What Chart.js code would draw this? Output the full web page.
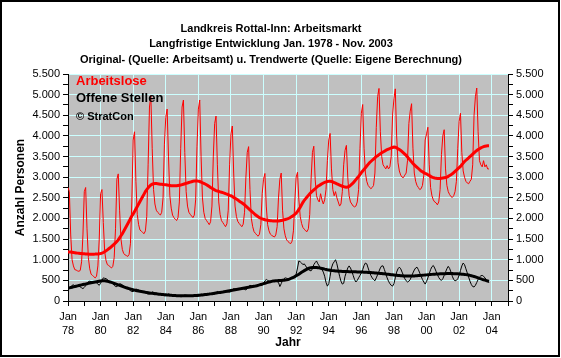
<!DOCTYPE html>
<html>
<head>
<meta charset="utf-8">
<script src="https://cdn.jsdelivr.net/npm/chart.js@4"></script>
<style>
html, body { margin: 0; padding: 0; background: #fff; }
canvas { display: block; }
</style>
</head>
<body>
<canvas id="grafico" width="561" height="358"></canvas>
<script>
// Monatswerte Jan. 1978 - Nov. 2003 (eine Zeile je Jahr)
const arbeitslose = [
    2750, 2650, 1600, 1000, 850, 760, 750, 730, 720, 740, 950, 1600,      // 1978
    2650, 2750, 1750, 1050, 780, 650, 620, 590, 560, 600, 850, 1500,      // 1979
    2600, 2700, 1900, 1200, 980, 880, 860, 830, 800, 840, 1050, 1750,     // 1980
    2950, 3080, 2200, 1500, 1250, 1150, 1120, 1100, 1080, 1130, 1400, 2400, // 1981
    3900, 4100, 2900, 2100, 1850, 1720, 1690, 1660, 1630, 1700, 2050, 3300, // 1982
    4700, 4980, 3700, 2700, 2350, 2200, 2150, 2120, 2080, 2150, 2500, 3800, // 1983
    4450, 4650, 3500, 2550, 2250, 2080, 2020, 1980, 1950, 2020, 2400, 3700, // 1984
    4700, 4870, 3600, 2650, 2300, 2150, 2100, 2060, 2020, 2080, 2450, 3750, // 1985
    4650, 4870, 3500, 2500, 2150, 2000, 1950, 1900, 1850, 1920, 2300, 3500, // 1986
    4300, 4480, 3300, 2400, 2100, 1950, 1900, 1850, 1800, 1870, 2200, 3300, // 1987
    4050, 4240, 3100, 2300, 2050, 1930, 1880, 1840, 1800, 1860, 2150, 3000, // 1988
    3600, 3740, 2700, 2000, 1800, 1680, 1640, 1600, 1570, 1620, 1850, 2600, // 1989
    2950, 3090, 2300, 1850, 1700, 1620, 1590, 1570, 1550, 1600, 1800, 2500, // 1990
    2950, 3100, 2200, 1750, 1580, 1480, 1440, 1410, 1390, 1450, 1700, 2400, // 1991
    3000, 3120, 2450, 2050, 1880, 1780, 1740, 1700, 1680, 1750, 2100, 2950, // 1992
    3600, 3750, 2950, 2550, 2450, 2400, 2600, 2450, 2350, 2450, 2700, 3400, // 1993
    3900, 4060, 3200, 2700, 2550, 2650, 2500, 2400, 2300, 2350, 2650, 3300, // 1994
    3650, 3770, 3000, 2550, 2400, 2350, 2300, 2280, 2300, 2400, 2700, 3700, // 1995
    4550, 4760, 3700, 3100, 2900, 2800, 2760, 2720, 2750, 2800, 3100, 4200, // 1996
    4950, 5150, 4100, 3500, 3300, 3250, 3200, 3280, 3200, 3250, 3500, 4500, // 1997
    4900, 5140, 4000, 3350, 3150, 3050, 3000, 2990, 3050, 3100, 3400, 4300, // 1998
    4600, 4780, 3700, 3100, 2900, 2800, 2750, 2700, 2720, 2800, 3050, 3900, // 1999
    4050, 4210, 3300, 2750, 2550, 2450, 2400, 2380, 2330, 2400, 2700, 3550, // 2000
    4000, 4150, 3200, 2800, 2650, 2580, 2530, 2510, 2550, 2650, 2900, 3700, // 2001
    4350, 4550, 3600, 3150, 3000, 2900, 2860, 2840, 2900, 2950, 3300, 4500, // 2002
    4950, 5160, 4100, 3400, 3300, 3250, 3400, 3250, 3300, 3200, 3200        // 2003
];

const trendArbeitslose = [
    1190, 1190, 1185, 1180, 1175, 1170, 1165, 1160, 1155, 1150, 1148, 1145,
    1143, 1140, 1138, 1136, 1135, 1134, 1134, 1135, 1136, 1138, 1140, 1142,
    1150, 1160, 1175, 1195, 1215, 1240, 1265, 1290, 1320, 1350, 1380, 1410,
    1440, 1480, 1530, 1580, 1630, 1690, 1750, 1810, 1870, 1930, 2000, 2060,
    2110, 2170, 2230, 2290, 2350, 2410, 2470, 2530, 2590, 2650, 2700, 2740,
    2780, 2810, 2830, 2840, 2845, 2845, 2840, 2835, 2830, 2830, 2825, 2820,
    2815, 2810, 2805, 2800, 2795, 2790, 2790, 2790, 2795, 2800, 2805, 2810,
    2820, 2830, 2840, 2850, 2860, 2870, 2880, 2890, 2900, 2905, 2910, 2910,
    2905, 2895, 2880, 2865, 2850, 2835, 2815, 2795, 2775, 2750, 2730, 2710,
    2690, 2675, 2665, 2655, 2645, 2635, 2625, 2615, 2600, 2590, 2575, 2560,
    2550, 2530, 2510, 2490, 2470, 2450, 2420, 2400, 2380, 2355, 2330, 2300,
    2270, 2240, 2210, 2180, 2150, 2120, 2090, 2065, 2040, 2020, 2005, 1990,
    1980, 1970, 1960, 1955, 1950, 1945, 1942, 1940, 1940, 1940, 1940, 1940,
    1945, 1950, 1955, 1965, 1975, 1985, 1995, 2010, 2030, 2050, 2075, 2100,
    2130, 2170, 2220, 2270, 2330, 2390, 2440, 2480, 2520, 2560, 2600, 2630,
    2660, 2690, 2720, 2750, 2780, 2800, 2820, 2840, 2860, 2875, 2885, 2895,
    2900, 2900, 2895, 2885, 2870, 2855, 2840, 2825, 2810, 2795, 2780, 2770,
    2760, 2755, 2760, 2775, 2800, 2830, 2860, 2900, 2940, 2980, 3020, 3060,
    3110, 3150, 3190, 3230, 3270, 3310, 3350, 3380, 3410, 3440, 3470, 3500,
    3520, 3545, 3570, 3590, 3610, 3630, 3650, 3665, 3680, 3695, 3710, 3720,
    3730, 3725, 3710, 3690, 3670, 3650, 3620, 3590, 3560, 3530, 3490, 3450,
    3410, 3370, 3330, 3300, 3270, 3240, 3210, 3180, 3150, 3130, 3110, 3090,
    3080, 3060, 3040, 3020, 3000, 2990, 2980, 2975, 2970, 2970, 2970, 2975,
    2980, 2985, 2990, 3000, 3020, 3040, 3060, 3080, 3110, 3140, 3170, 3200,
    3230, 3260, 3300, 3340, 3380, 3410, 3440, 3470, 3500, 3530, 3560, 3590,
    3620, 3645, 3670, 3690, 3710, 3725, 3740, 3750, 3755, 3760, 3760
];

const offeneStellen = [
    280, 300, 340, 380, 390, 370, 360, 370, 360, 340, 320, 300,
    330, 370, 430, 470, 480, 470, 460, 470, 470, 440, 410, 380,
    430, 500, 560, 550, 540, 520, 490, 470, 450, 420, 380, 350,
    350, 380, 420, 410, 390, 370, 340, 330, 310, 280, 250, 230,
    230, 260, 290, 280, 270, 250, 240, 230, 220, 200, 180, 170,
    170, 190, 220, 210, 200, 190, 180, 170, 160, 150, 140, 130,
    130, 150, 170, 160, 150, 140, 140, 135, 130, 120, 110, 105,
    105, 125, 145, 140, 135, 130, 130, 130, 130, 125, 120, 115,
    120, 140, 165, 160, 160, 160, 165, 165, 170, 165, 165, 160,
    170, 200, 230, 220, 215, 215, 220, 225, 230, 225, 220, 215,
    230, 270, 300, 290, 290, 290, 295, 300, 305, 300, 280, 270,
    300, 350, 380, 370, 360, 360, 370, 380, 390, 400, 390, 380,
    420, 490, 520, 500, 480, 470, 480, 490, 500, 490, 470, 450,
    350, 420, 500, 540, 560, 550, 530, 540, 560, 560, 580, 600,
    650, 800, 970, 950, 920, 880, 900, 850, 800, 760, 740, 730,
    780, 880, 930, 970, 900, 850, 800, 760, 700, 600, 450, 360,
    420, 600, 800, 900, 950, 1000, 900, 750, 600, 480, 410, 430,
    600, 700, 800, 850, 800, 720, 620, 520, 460, 500, 560, 620,
    680, 760, 860, 920, 900, 800, 700, 620, 560, 520, 490, 560,
    640, 720, 800, 850, 850, 760, 660, 560, 480, 420, 380, 360,
    420, 560, 700, 780, 820, 780, 700, 620, 540, 490, 460, 480,
    520, 600, 680, 750, 800, 820, 760, 680, 600, 520, 460, 410,
    470, 560, 660, 760, 830, 860, 800, 720, 640, 570, 520, 500,
    540, 620, 700, 780, 840, 790, 700, 600, 520, 490, 500, 540,
    620, 740, 850, 920, 880, 780, 680, 580, 480, 400, 350, 340,
    380, 450, 520, 580, 610, 620, 600, 560, 520, 480, 440
];

const trendOffeneStellen = [
    310, 318, 326, 334, 342, 350, 358, 366, 374, 382, 390, 398,
    405, 412, 420, 427, 434, 441, 448, 455, 462, 468, 474, 480,
    486, 490, 490, 488, 484, 478, 470, 460, 450, 440, 428, 416,
    404, 392, 380, 368, 356, 344, 332, 320, 310, 300, 290, 281,
    272, 264, 256, 248, 241, 234, 228, 222, 216, 210, 205, 200,
    195, 190, 186, 182, 178, 174, 170, 166, 162, 158, 155, 152,
    149, 146, 143, 140, 138, 136, 134, 132, 130, 129, 128, 127,
    126, 125, 125, 125, 125, 126, 127, 128, 130, 132, 134, 136,
    139, 142, 145, 148, 152, 156, 160, 164, 168, 173, 178, 183,
    188, 193, 198, 203, 208, 213, 218, 224, 230, 236, 242, 248,
    254, 260, 266, 272, 278, 284, 290, 296, 302, 308, 314, 320,
    326, 332, 338, 344, 350, 356, 362, 370, 380, 390, 400, 410,
    420, 430, 440, 450, 460, 468, 476, 482, 486, 490, 492, 494,
    496, 498, 500, 502, 506, 512, 520, 530, 545, 560, 575, 590,
    610, 630, 650, 672, 694, 716, 736, 755, 772, 788, 800, 808,
    812, 814, 814, 812, 808, 802, 795, 788, 780, 772, 765, 758,
    752, 746, 740, 736, 732, 728, 725, 722, 720, 718, 716, 715,
    714, 713, 712, 711, 710, 709, 708, 707, 706, 705, 704, 703,
    702, 700, 698, 696, 694, 692, 690, 688, 686, 684, 681, 678,
    675, 672, 669, 666, 662, 658, 654, 650, 646, 642, 638, 634,
    630, 626, 622, 618, 615, 612, 610, 608, 606, 605, 604, 604,
    604, 605, 606, 608, 610, 612, 615, 618, 621, 624, 627, 630,
    633, 636, 639, 642, 645, 648, 650, 652, 654, 656, 658, 660,
    661, 662, 663, 664, 665, 665, 665, 664, 663, 662, 660, 658,
    655, 653, 650, 647, 643, 639, 634, 628, 621, 613, 604, 594,
    583, 571, 559, 547, 536, 525, 515, 505, 495, 485, 475
];

// Achsenbeschriftung: Jan. jedes zweiten Jahres
const jahresLabels = ['78', '80', '82', '84', '86', '88', '90', '92', '94', '96', '98', '00', '02', '04'];
const titelZeilen = [
    'Landkreis Rottal-Inn: Arbeitsmarkt',
    'Langfristige Entwicklung Jan. 1978 - Nov. 2003',
    'Original- (Quelle: Arbeitsamt) u. Trendwerte (Quelle: Eigene Berechnung)'
];

const GITTER = '#CCFFFF';
const UNSICHTBAR = 'rgba(0,0,0,0)';

Chart.defaults.font.family = "'Liberation Sans', Arial, sans-serif";
Chart.defaults.font.size = 11;
Chart.defaults.color = '#000';

function punkte(werte) {
    return werte.map((v, i) => ({ x: i, y: v }));
}

function tausender(v) {
    return String(v).replace(/\B(?=(\d{3})+(?!\d))/g, '.');
}

const rahmenUndText = {
    id: 'rahmenUndText',
    beforeDraw(chart) {
        const { ctx, chartArea: a } = chart;
        ctx.save();
        ctx.fillStyle = '#fff';
        ctx.fillRect(0, 0, chart.width, chart.height);
        ctx.fillStyle = '#C0C0C0';
        ctx.fillRect(a.left, a.top, a.right - a.left, a.bottom - a.top);
        ctx.restore();
    },
    afterDraw(chart) {
        const ctx = chart.ctx;
        ctx.save();
        ctx.textBaseline = 'middle';
        ctx.textAlign = 'center';
        ctx.fillStyle = '#000';
        ctx.font = "bold 11px 'Liberation Sans', Arial, sans-serif";
        ctx.fillText(titelZeilen[0], 271, 29);
        ctx.fillText(titelZeilen[1], 271, 44);
        ctx.fillText(titelZeilen[2], 271, 60);

        ctx.textAlign = 'left';
        ctx.font = "bold 13px 'Liberation Sans', Arial, sans-serif";
        ctx.fillStyle = '#FF0000';
        ctx.fillText('Arbeitslose', 76, 81);
        ctx.fillStyle = '#000';
        ctx.fillText('Offene Stellen', 76, 98);
        ctx.font = "bold 11px 'Liberation Sans', Arial, sans-serif";
        ctx.fillText('\u00A9 StratCon', 76, 117);

        ctx.strokeStyle = '#000';
        ctx.lineWidth = 2;
        ctx.strokeRect(1, 1, 558, 355);
        ctx.restore();
    }
};

const ctx = document.getElementById('grafico').getContext('2d');

const grafico = new Chart(ctx, {
    type: 'line',
    data: {
        datasets: [
            {
                label: 'Arbeitslose',
                data: punkte(arbeitslose),
                borderColor: '#FF0000',
                borderWidth: 1
            },
            {
                label: 'Offene Stellen',
                data: punkte(offeneStellen),
                borderColor: '#000',
                borderWidth: 1
            },
            {
                label: 'Trend Arbeitslose',
                data: punkte(trendArbeitslose),
                borderColor: '#FF0000',
                borderWidth: 3
            },
            {
                label: 'Trend Offene Stellen',
                data: punkte(trendOffeneStellen),
                borderColor: '#000',
                borderWidth: 3
            }
        ]
    },
    options: {
        responsive: false,
        animation: false,
        devicePixelRatio: 1,
        elements: {
            point: { radius: 0 },
            line: { tension: 0, fill: false }
        },
        layout: { padding: { top: 74, left: 0, right: 0, bottom: 0 } },
        plugins: {
            legend: { display: false },
            tooltip: { enabled: false }
        },
        scales: {
            x: {
                type: 'linear',
                min: 0,
                max: 324,
                afterFit(s) { s.height = 57; },
                border: { color: '#000', width: 1 },
                grid: {
                    color: c => (c.tick && c.tick.value % 24 === 0) ? GITTER : UNSICHTBAR,
                    tickColor: '#000',
                    tickLength: 5
                },
                ticks: {
                    stepSize: 12,
                    autoSkip: false,
                    maxRotation: 0,
                    padding: 3,
                    font: { size: 11, lineHeight: 1.36 },
                    callback: v => v % 24 === 0 ? ['Jan', jahresLabels[v / 24]] : ''
                },
                title: {
                    display: true,
                    text: 'Jahr',
                    font: { size: 12, weight: 'bold' },
                    padding: { top: 0, bottom: 8 }
                }
            },
            y: {
                position: 'left',
                min: 0,
                max: 5500,
                afterFit(s) { s.width = 68; },
                border: { color: '#000', width: 1 },
                grid: {
                    color: c => (c.tick && c.tick.value % 500 === 0) ? GITTER : UNSICHTBAR,
                    tickColor: '#000',
                    tickLength: 5
                },
                ticks: {
                    stepSize: 250,
                    autoSkip: false,
                    padding: 3,
                    callback: v => v % 500 === 0 ? tausender(v) : ''
                },
                title: {
                    display: true,
                    text: 'Anzahl Personen',
                    font: { size: 12, weight: 'bold' },
                    padding: { top: 13, bottom: 0 }
                }
            },
            y2: {
                position: 'right',
                min: 0,
                max: 5500,
                afterFit(s) { s.width = 53; },
                border: { color: '#000', width: 1 },
                grid: {
                    drawOnChartArea: false,
                    color: '#000',
                    tickColor: '#000',
                    tickLength: 5
                },
                ticks: {
                    stepSize: 250,
                    autoSkip: false,
                    padding: 3,
                    callback: v => v % 500 === 0 ? tausender(v) : ''
                }
            }
        }
    },
    plugins: [rahmenUndText]
});
</script>
</body>
</html>
